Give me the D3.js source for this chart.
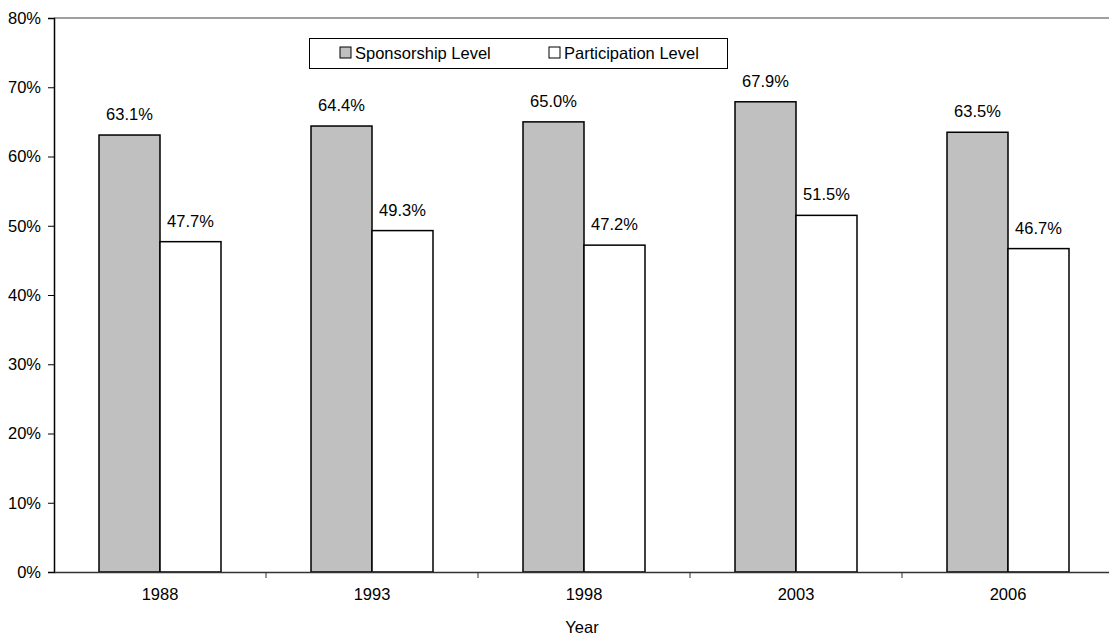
<!DOCTYPE html>
<html><head><meta charset="utf-8">
<script src="https://cdn.jsdelivr.net/npm/d3@7"></script>
<style>body{margin:0;background:#fff}text{font-family:"Liberation Sans",Arial,sans-serif;fill:#000}</style>
</head><body>
<svg id="c" width="1109" height="636"></svg>
<script>
const years = ["1988","1993","1998","2003","2006"];
const sponsorship = [63.1,64.4,65.0,67.9,63.5];
const participation = [47.7,49.3,47.2,51.5,46.7];
const seriesNames = ["Sponsorship Level","Participation Level"];
const yTicks = [0,10,20,30,40,50,60,70,80];

const svg = d3.select("#c");
const L=54, R=1114, T=18, B=572;
const x = d3.scaleBand().domain(years).range([L,R]);
const y = d3.scaleLinear().domain([0,80]).range([B,T]);
const bw = 61;
const fills = ["#c0c0c0","#ffffff"];
const data = [sponsorship, participation];
const FS = 16.5;

svg.append("line").attr("x1",L).attr("x2",R).attr("y1",y(80)).attr("y2",y(80)).attr("stroke","#808080").attr("stroke-width",1.5);

data.forEach((vals,si)=>{
  svg.selectAll(null).data(vals).enter().append("rect")
    .attr("x",(d,i)=>x(years[i])+x.bandwidth()/2-bw+si*bw)
    .attr("y",d=>y(d)).attr("width",bw).attr("height",d=>B-y(d))
    .attr("fill",fills[si]).attr("stroke","#000").attr("stroke-width",1.5);
  svg.selectAll(null).data(vals).enter().append("text")
    .attr("x",(d,i)=>x(years[i])+x.bandwidth()/2-bw/2+si*bw)
    .attr("y",d=>y(d)-15).attr("text-anchor","middle").attr("font-size",FS)
    .text(d=>d.toFixed(1)+"%");
});

const ya = svg.append("g").attr("transform",`translate(${L},0)`)
  .call(d3.axisLeft(y).tickValues(yTicks).tickSize(6).tickFormat(d=>d+"%"));
ya.select(".domain").attr("stroke","#000").attr("stroke-width",1.5);
ya.selectAll(".tick line").attr("stroke","#000");
ya.selectAll(".tick text").attr("font-size",FS).attr("x",-13).attr("font-family","Liberation Sans, Arial, sans-serif").attr("fill","#000");

const xa = svg.append("g").attr("transform",`translate(0,${B})`)
  .call(d3.axisBottom(x).tickSize(0).tickPadding(0));
xa.select(".domain").attr("stroke","#333").attr("stroke-width",1.5);
xa.selectAll(".tick text").attr("font-size",FS).attr("dy",null).attr("y",28).attr("font-family","Liberation Sans, Arial, sans-serif").attr("fill","#000");
svg.selectAll(null).data(years.slice(1)).enter().append("line")
  .attr("x1",d=>x(d)).attr("x2",d=>x(d)).attr("y1",B).attr("y2",B+6).attr("stroke","#333");

svg.append("text").attr("x",582).attr("y",633).attr("text-anchor","middle").attr("font-size",FS).text("Year");

const lg = svg.append("g");
lg.append("rect").attr("x",309.5).attr("y",38.5).attr("width",418).attr("height",30).attr("fill","#fff").attr("stroke","#000");
const lx=[340,549];
seriesNames.forEach((n,i)=>{
  lg.append("rect").attr("x",lx[i]).attr("y",47).attr("width",11).attr("height",11).attr("fill",fills[i]).attr("stroke","#000");
  lg.append("text").attr("x",lx[i]+15).attr("y",59).attr("font-size",FS).text(n);
});
</script>
</body></html>
